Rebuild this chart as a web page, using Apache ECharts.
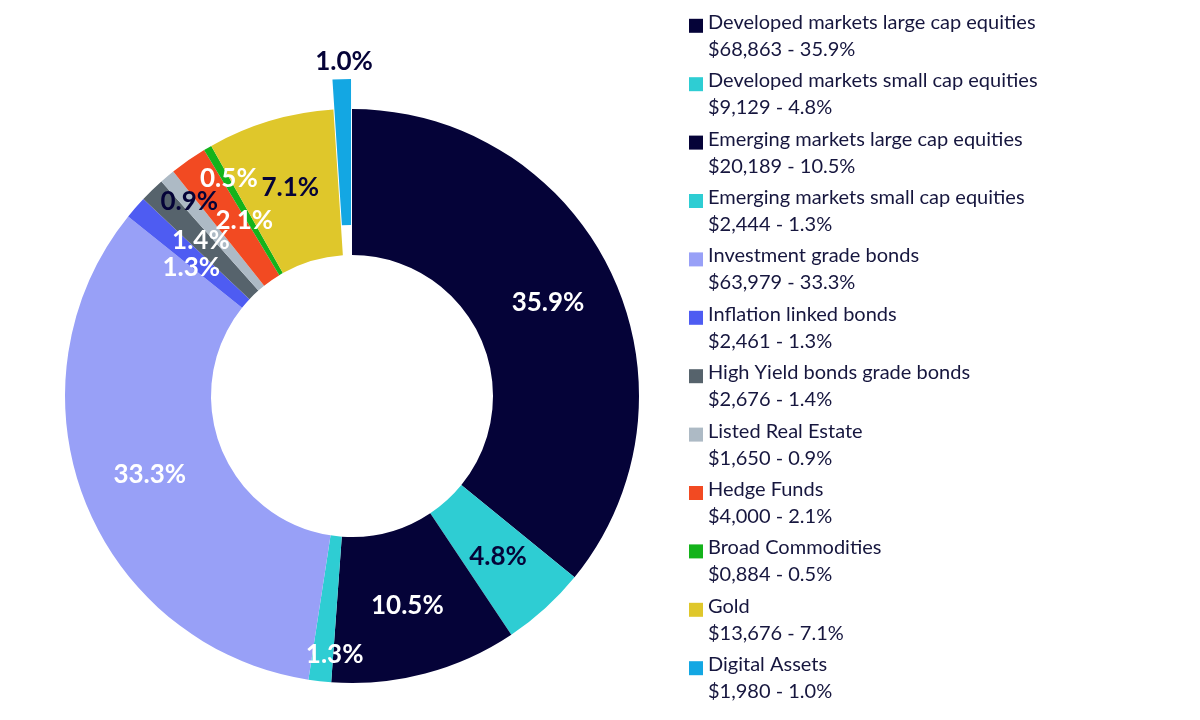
<!DOCTYPE html>
<html>
<head>
<meta charset="utf-8">
<script src="https://cdn.jsdelivr.net/npm/echarts@6/dist/echarts.min.js"></script>
<style>
  html, body { margin: 0; padding: 0; background: #fff; }
  #main { width: 1200px; height: 720px; }
</style>
</head>
<body>
<div id="main"></div>
<script>
// allocation data
let categories = [
    'Developed markets large cap equities',
    'Developed markets small cap equities',
    'Emerging markets large cap equities',
    'Emerging markets small cap equities',
    'Investment grade bonds',
    'Inflation linked bonds',
    'High Yield bonds grade bonds',
    'Listed Real Estate',
    'Hedge Funds',
    'Broad Commodities',
    'Gold',
    'Digital Assets'
];
let amounts = [68863, 9129, 20189, 2444, 63979, 2461, 2676, 1650, 4000, 884, 13676, 1980];

let colors = ['#050338', '#2ecdd3', '#050338', '#2ecdd3', '#98a0f7', '#4e5cf2',
    '#56636c', '#adbac5', '#f24a22', '#14b31b', '#dfc72b', '#13a7e3'];
// label text colour per slice (dark text on light slices)
let labelColors = ['#fff', '#050338', '#fff', '#fff', '#fff', '#fff',
    '#fff', '#050338', '#fff', '#fff', '#050338', '#050338'];
// small nudges so the thin slices' labels don't pile up
let labelNudge = { 3: [7, 43], 5: [3, 14], 7: [-23, -28], 8: [16, 3], 9: [-14, -30], 11: [0, -88] };

let total = amounts.reduce((a, b) => a + b, 0);
function pct(v) {
    return (v / total * 100).toFixed(1) + '%';
}
function money(v) {
    return '$' + Math.floor(v / 1000) + ',' + String(v % 1000).padStart(3, '0');
}

let chart = echarts.init(document.getElementById('main'));

let seriesData = categories.map((name, i) => {
    let item = {
        name: name,
        value: amounts[i],
        itemStyle: { color: colors[i] },
        label: { color: labelColors[i] }
    };
    if (labelNudge[i]) item.label.offset = labelNudge[i];
    if (i === 11) {
        item.selected = true;
        item.select = { label: { offset: labelNudge[i], color: labelColors[i] } };
    }
    return item;
});

const option = {
    animation: false,
    legend: {
        orient: 'vertical',
        left: 689,
        top: 12.3,
        height: 780,
        padding: 0,
        itemGap: 11.4,
        itemWidth: 14,
        itemHeight: 14,
        icon: 'rect',
        selectedMode: false,
        formatter: function (name) {
            let i = categories.indexOf(name);
            return '{n|' + name + '}\n{n|' + money(amounts[i]) + ' - ' + pct(amounts[i]) + '}';
        },
        textStyle: {
            padding: [20, 0, 0, 0],
            rich: {
                n: {
                    fontFamily: 'Lato',
                    fontSize: 20,
                    lineHeight: 27,
                    color: '#16163e'
                }
            }
        }
    },
    series: [
        {
            type: 'pie',
            center: [352, 396],
            radius: [141, 287],
            startAngle: 90,
            clockwise: true,
            selectedMode: 'single',
            selectedOffset: 30,
            avoidLabelOverlap: false,
            labelLayout: { hideOverlap: false },
            label: {
                show: true,
                position: 'inside',
                fontFamily: 'Lato',
                fontWeight: 'bold',
                fontSize: 26,
                formatter: function (params) {
                    return pct(params.value);
                }
            },
            labelLine: { show: false },
            emphasis: { disabled: true },
            itemStyle: { borderWidth: 0 },
            data: seriesData
        }
    ]
};
chart.setOption(option);
</script>
</body>
</html>
